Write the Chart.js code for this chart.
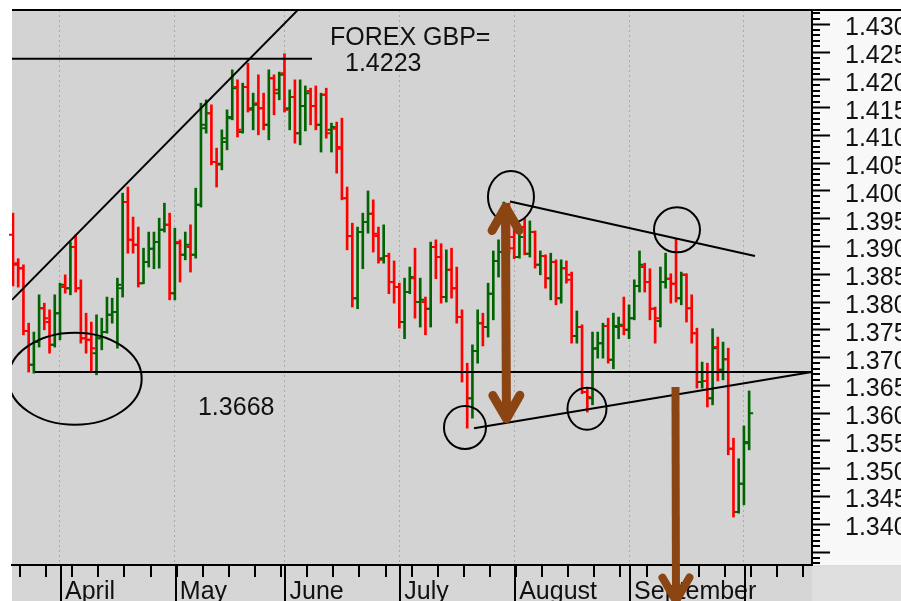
<!DOCTYPE html>
<html>
<head>
<meta charset="utf-8">
<title>FOREX GBP=</title>
<script src="https://cdn.jsdelivr.net/npm/chart.js@4.4.1/dist/chart.umd.min.js"></script>
<style>
    body { margin: 0; background: #ffffff; }
    #caixa { width: 901px; height: 601px; }
</style>
</head>
<body>
<div id="caixa"><canvas id="chartGbp" width="901" height="601"></canvas></div>
<script>

// Barras diarias GBP=, indice 0 = primeira barra a esquerda (dias uteis)
const opens = [
    1.3921, 1.3870, 1.3861, 1.3748, 1.3687, 1.3728, 1.3789, 1.3764, 1.3723, 1.3780,
    1.3827, 1.3825, 1.3899, 1.3825, 1.3735, 1.3732, 1.3708, 1.3735, 1.3746, 1.3777,
    1.3782, 1.3825, 1.3980, 1.3912, 1.3903, 1.3834, 1.3872, 1.3896, 1.3908, 1.3930,
    1.3939, 1.3816, 1.3908, 1.3885, 1.3899, 1.3885, 1.3975, 1.4113, 1.4140, 1.4052,
    1.4049, 1.4088, 1.4131, 1.4187, 1.4106, 1.4187, 1.4149, 1.4158, 1.4149, 1.4119,
    1.4203, 1.4176, 1.4212, 1.4149, 1.4169, 1.4104, 1.4153, 1.4180, 1.4153, 1.4119,
    1.4173, 1.4110, 1.4112, 1.4076, 1.3987, 1.3919, 1.3807, 1.3926, 1.3944, 1.3959,
    1.3919, 1.3879, 1.3883, 1.3836, 1.3827, 1.3764, 1.3818, 1.3843, 1.3800, 1.3800,
    1.3788, 1.3899, 1.3881, 1.3809, 1.3858, 1.3825, 1.3773, 1.3674, 1.3627, 1.3712,
    1.3762, 1.3755, 1.3815, 1.3874, 1.3890, 1.3939, 1.3917, 1.3881, 1.3935, 1.3887,
    1.3926, 1.3867, 1.3883, 1.3843, 1.3872, 1.3807, 1.3861, 1.3849, 1.3739, 1.3755,
    1.3638, 1.3627, 1.3717, 1.3726, 1.3757, 1.3696, 1.3755, 1.3757, 1.3750, 1.3771,
    1.3829, 1.3863, 1.3836, 1.3788, 1.3766, 1.3836, 1.3842, 1.3833, 1.3807, 1.3849,
    1.3789, 1.3744, 1.3656, 1.3658, 1.3627, 1.3719, 1.3678, 1.3697, 1.3536, 1.3422,
    1.3473, 1.3546
];
const highs = [
    1.3960, 1.3878, 1.3867, 1.3762, 1.3746, 1.3813, 1.3798, 1.3786, 1.3813, 1.3834,
    1.3849, 1.3908, 1.3921, 1.3840, 1.3780, 1.3764, 1.3777, 1.3771, 1.3809, 1.3807,
    1.3843, 1.3996, 1.4007, 1.3953, 1.3935, 1.3897, 1.3926, 1.3926, 1.3951, 1.3978,
    1.3960, 1.3933, 1.3912, 1.3926, 1.3939, 1.4005, 1.4158, 1.4164, 1.4155, 1.4077,
    1.4110, 1.4146, 1.4218, 1.4200, 1.4194, 1.4230, 1.4176, 1.4209, 1.4176, 1.4218,
    1.4209, 1.4214, 1.4247, 1.4182, 1.4200, 1.4200, 1.4189, 1.4185, 1.4189, 1.4176,
    1.4185, 1.4122, 1.4124, 1.4131, 1.4007, 1.3942, 1.3935, 1.3960, 1.4000, 1.3984,
    1.3935, 1.3939, 1.3888, 1.3874, 1.3834, 1.3843, 1.3863, 1.3897, 1.3843, 1.3809,
    1.3908, 1.3912, 1.3905, 1.3894, 1.3897, 1.3863, 1.3786, 1.3690, 1.3723, 1.3786,
    1.3780, 1.3834, 1.3892, 1.3912, 1.3980, 1.3978, 1.3948, 1.3935, 1.3951, 1.3946,
    1.3928, 1.3892, 1.3885, 1.3888, 1.3876, 1.3876, 1.3874, 1.3854, 1.3784, 1.3759,
    1.3645, 1.3746, 1.3746, 1.3762, 1.3771, 1.3780, 1.3773, 1.3809, 1.3795, 1.3840,
    1.3892, 1.3870, 1.3860, 1.3791, 1.3863, 1.3888, 1.3851, 1.3914, 1.3854, 1.3851,
    1.3813, 1.3753, 1.3692, 1.3690, 1.3752, 1.3737, 1.3728, 1.3717, 1.3555, 1.3518,
    1.3577, 1.3640
];
const lows = [
    1.3829, 1.3827, 1.3741, 1.3674, 1.3672, 1.3719, 1.3750, 1.3708, 1.3719, 1.3732,
    1.3816, 1.3813, 1.3818, 1.3726, 1.3708, 1.3674, 1.3669, 1.3714, 1.3744, 1.3762,
    1.3717, 1.3809, 1.3888, 1.3888, 1.3827, 1.3833, 1.3863, 1.3860, 1.3861, 1.3926,
    1.3804, 1.3804, 1.3836, 1.3876, 1.3854, 1.3879, 1.3971, 1.4104, 1.4047, 1.4007,
    1.4038, 1.4074, 1.4128, 1.4097, 1.4104, 1.4142, 1.4110, 1.4101, 1.4110, 1.4092,
    1.4137, 1.4164, 1.4142, 1.4110, 1.4086, 1.4083, 1.4108, 1.4119, 1.4110, 1.4070,
    1.4095, 1.4070, 1.4032, 1.3984, 1.3894, 1.3791, 1.3788, 1.3860, 1.3924, 1.3890,
    1.3870, 1.3870, 1.3815, 1.3798, 1.3753, 1.3734, 1.3815, 1.3771, 1.3755, 1.3741,
    1.3755, 1.3842, 1.3798, 1.3800, 1.3807, 1.3762, 1.3656, 1.3573, 1.3591, 1.3690,
    1.3721, 1.3737, 1.3768, 1.3845, 1.3879, 1.3888, 1.3878, 1.3879, 1.3885, 1.3881,
    1.3861, 1.3849, 1.3825, 1.3804, 1.3795, 1.3798, 1.3834, 1.3726, 1.3726, 1.3635,
    1.3602, 1.3615, 1.3699, 1.3699, 1.3690, 1.3680, 1.3734, 1.3741, 1.3734, 1.3768,
    1.3818, 1.3818, 1.3768, 1.3726, 1.3755, 1.3825, 1.3798, 1.3800, 1.3795, 1.3764,
    1.3726, 1.3645, 1.3645, 1.3611, 1.3615, 1.3658, 1.3660, 1.3525, 1.3413, 1.3420,
    1.3435, 1.3534
];
const closes = [
    1.3867, 1.3861, 1.3748, 1.3687, 1.3728, 1.3789, 1.3771, 1.3723, 1.3780, 1.3831,
    1.3825, 1.3899, 1.3825, 1.3735, 1.3732, 1.3717, 1.3735, 1.3746, 1.3777, 1.3782,
    1.3831, 1.3980, 1.3912, 1.3903, 1.3834, 1.3872, 1.3896, 1.3908, 1.3930, 1.3939,
    1.3816, 1.3906, 1.3885, 1.3903, 1.3885, 1.3975, 1.4119, 1.4140, 1.4052, 1.4047,
    1.4095, 1.4133, 1.4185, 1.4110, 1.4187, 1.4146, 1.4155, 1.4149, 1.4119, 1.4203,
    1.4182, 1.4209, 1.4146, 1.4169, 1.4104, 1.4153, 1.4176, 1.4153, 1.4119, 1.4173,
    1.4104, 1.4115, 1.4079, 1.3987, 1.3919, 1.3807, 1.3926, 1.3944, 1.3959, 1.3923,
    1.3876, 1.3883, 1.3836, 1.3827, 1.3764, 1.3818, 1.3845, 1.3800, 1.3804, 1.3788,
    1.3899, 1.3881, 1.3809, 1.3858, 1.3825, 1.3773, 1.3674, 1.3627, 1.3712, 1.3762,
    1.3755, 1.3815, 1.3874, 1.3890, 1.3946, 1.3897, 1.3881, 1.3917, 1.3887, 1.3926,
    1.3867, 1.3883, 1.3843, 1.3872, 1.3807, 1.3861, 1.3840, 1.3739, 1.3755, 1.3638,
    1.3629, 1.3716, 1.3726, 1.3757, 1.3696, 1.3757, 1.3759, 1.3750, 1.3771, 1.3829,
    1.3867, 1.3836, 1.3788, 1.3771, 1.3836, 1.3842, 1.3833, 1.3807, 1.3849, 1.3789,
    1.3744, 1.3656, 1.3658, 1.3627, 1.3717, 1.3678, 1.3697, 1.3536, 1.3422, 1.3473,
    1.3548, 1.3600
];

// eixo do tempo: inicio de cada mes e segundas-feiras (indices das barras)
const monthStarts = [9, 31, 52, 74, 96, 118, 140];
const monthLabels = ['April', 'May', 'June', 'July', 'August', 'September', ''];
const weekStarts = [1, 6, 11, 16, 21, 26, 31, 36, 41, 46, 51, 56, 61, 66, 71, 76,
    81, 86, 91, 96, 101, 106, 111, 116, 121, 126, 131, 136, 141, 146, 151];

// eixo de precos
const yTicks = [1.335, 1.340, 1.345, 1.350, 1.355, 1.360, 1.365, 1.370, 1.375, 1.380,
    1.385, 1.390, 1.395, 1.400, 1.405, 1.410, 1.415, 1.420, 1.425, 1.430];
const yTickLabels = ['', '1.340', '1.345', '1.350', '1.355', '1.360', '1.365', '1.370', '1.375', '1.380',
    '1.385', '1.390', '1.395', '1.400', '1.405', '1.410', '1.415', '1.420', '1.425', '1.430'];

// linhas desenhadas a mao sobre o grafico: [x1, y1, x2, y2] em coordenadas dos dados
const trendLines = [
    [-0.19, 1.3804, 54.59, 1.4326],
    [-0.19, 1.4238, 57.27, 1.4238],
    [4.21, 1.3674, 153.04, 1.3674],
    [95.19, 1.3981, 142.12, 1.3883],
    [88.30, 1.3573, 153.02, 1.3674]
];
// circulos: [x, y, raioX px, raioY px]
const circles = [
    [11.87, 1.3662, 66.7, 46],
    [95.38, 1.3989, 23, 26],
    [127.18, 1.3930, 23, 22.5],
    [86.57, 1.3574, 21, 21.5],
    [109.94, 1.3608, 19.5, 21]
];
// setas: [x1, y1, x2, y2, duas pontas, espessura]
const arrows = [
    [94.33, 1.3971, 94.52, 1.3590, true, 9],
    [126.89, 1.3647, 126.99, 1.3262, false, 8]
];
const notes = [
    ['FOREX GBP=', 60.71, 1.4263],
    ['1.4223', 63.59, 1.4216],
    ['1.3668', 35.43, 1.3597]
];

const vermelho = '#ff0000';
const verde = '#006400';
const marrom = '#8b4513';

const coresBarras = opens.map((o, i) => closes[i] >= o ? verde : vermelho);

const fundo = {
    id: 'fundo',
    beforeDraw(chart) {
        const { ctx, chartArea: a, width, height } = chart;
        ctx.save();
        ctx.fillStyle = '#ffffff';
        ctx.fillRect(0, 0, width, height);
        ctx.fillStyle = '#f8f8f8';
        ctx.fillRect(a.right, a.top, width - a.right, a.bottom - a.top);
        ctx.fillStyle = '#d3d3d3';
        ctx.fillRect(a.left, a.top, a.right - a.left, a.bottom - a.top);
        ctx.fillStyle = '#d6d6d6';
        ctx.fillRect(a.left, a.bottom, a.right - a.left, height - a.bottom);
        ctx.fillStyle = '#dedede';
        ctx.fillRect(a.right, a.bottom, width - a.right, height - a.bottom);
        ctx.restore();
    }
};

// tracinhos de abertura (esquerda) e fechamento (direita)
const tiques = {
    id: 'tiques',
    afterDatasetsDraw(chart) {
        const { ctx, scales: { x, y } } = chart;
        ctx.save();
        ctx.lineWidth = 2;
        for (let i = 0; i < opens.length; i++) {
            const px = x.getPixelForValue(i);
            const yo = y.getPixelForValue(opens[i]);
            const yc = y.getPixelForValue(closes[i]);
            ctx.strokeStyle = coresBarras[i];
            ctx.beginPath();
            ctx.moveTo(px - 4, yo);
            ctx.lineTo(px, yo);
            ctx.moveTo(px, yc);
            ctx.lineTo(px + 4, yc);
            ctx.stroke();
        }
        ctx.restore();
    }
};

function ponta(ctx, x, y, ang) {
    const L = 27, a = Math.PI / 6;
    ctx.beginPath();
    ctx.moveTo(x - L * Math.cos(ang - a), y - L * Math.sin(ang - a));
    ctx.lineTo(x, y);
    ctx.lineTo(x - L * Math.cos(ang + a), y - L * Math.sin(ang + a));
    ctx.stroke();
}

const anotacoes = {
    id: 'anotacoes',
    afterDraw(chart) {
        const { ctx, chartArea: a, width, height, scales: { x, y } } = chart;

        // marcas pequenas do eixo de precos
        ctx.save();
        ctx.strokeStyle = '#000';
        ctx.lineWidth = 2;
        ctx.beginPath();
        for (let k = 1333; k <= 1432; k++) {
            if (k % 5 === 0) continue;
            const py = Math.round(y.getPixelForValue(k / 1000));
            ctx.moveTo(a.right, py);
            ctx.lineTo(a.right + 8, py);
        }
        // semanas e divisoes de mes no eixo do tempo
        weekStarts.forEach(w => {
            const px = Math.round(x.getPixelForValue(w + 0.35));
            ctx.moveTo(px, a.bottom);
            ctx.lineTo(px, a.bottom + 12);
        });
        monthStarts.forEach(m => {
            const px = Math.round(x.getPixelForValue(m)) + 1;
            ctx.moveTo(px, a.bottom);
            ctx.lineTo(px, height);
        });
        ctx.stroke();
        // borda de cima
        ctx.beginPath();
        ctx.moveTo(a.left, a.top);
        ctx.lineTo(width, a.top);
        ctx.stroke();
        ctx.restore();

        // linhas e circulos dentro da area do grafico
        ctx.save();
        ctx.beginPath();
        ctx.rect(a.left, a.top, a.right - a.left, a.bottom - a.top);
        ctx.clip();
        ctx.strokeStyle = '#000';
        ctx.lineWidth = 2;
        trendLines.forEach(l => {
            ctx.beginPath();
            ctx.moveTo(x.getPixelForValue(l[0]), y.getPixelForValue(l[1]));
            ctx.lineTo(x.getPixelForValue(l[2]), y.getPixelForValue(l[3]));
            ctx.stroke();
        });
        circles.forEach(c => {
            ctx.beginPath();
            ctx.ellipse(x.getPixelForValue(c[0]), y.getPixelForValue(c[1]), c[2], c[3], 0, 0, Math.PI * 2);
            ctx.stroke();
        });
        ctx.fillStyle = '#111';
        ctx.font = '25px "Liberation Sans", Arial, sans-serif';
        ctx.textBaseline = 'alphabetic';
        notes.forEach(n => {
            ctx.fillText(n[0], x.getPixelForValue(n[1]), y.getPixelForValue(n[2]));
        });
        ctx.restore();

        // setas marrons
        ctx.save();
        ctx.strokeStyle = marrom;
        ctx.lineJoin = 'round';
        arrows.forEach(s => {
            const x1 = x.getPixelForValue(s[0]), y1 = y.getPixelForValue(s[1]);
            const x2 = x.getPixelForValue(s[2]), y2 = y.getPixelForValue(s[3]);
            const ang = Math.atan2(y2 - y1, x2 - x1);
            ctx.lineWidth = s[5];
            ctx.lineCap = 'butt';
            ctx.beginPath();
            ctx.moveTo(x1, y1);
            ctx.lineTo(x2, y2);
            ctx.stroke();
            ctx.lineCap = 'round';
            ponta(ctx, x2, y2, ang);
            if (s[4]) ponta(ctx, x1, y1, ang + Math.PI);
        });
        ctx.restore();
    }
};

Chart.defaults.font.family = '"Liberation Sans", Arial, sans-serif';

const configGbp = document.getElementById('chartGbp');

new Chart(configGbp, {
    type: 'bar',
    data: {
        datasets: [{
            label: 'GBP=',
            data: opens.map((o, i) => ({ x: i, y: [lows[i], highs[i]] })),
            backgroundColor: coresBarras,
            borderWidth: 0,
            barThickness: 2
        }]
    },
    options: {
        responsive: false,
        animation: false,
        devicePixelRatio: 1,
        layout: {
            padding: { left: 12, top: 10, right: 0, bottom: 0 }
        },
        scales: {
            x: {
                type: 'linear',
                min: -0.19,
                max: 153.04,
                offset: false,
                afterBuildTicks: s => { s.ticks = monthStarts.map(v => ({ value: v })); },
                afterFit: s => {
                    s.height = 36;
                    s.paddingLeft = 0; s.paddingRight = 0;
                    s.paddingTop = 0; s.paddingBottom = 0;
                },
                ticks: {
                    autoSkip: false,
                    maxRotation: 0,
                    minRotation: 0,
                    align: 'start',
                    labelOffset: 5,
                    padding: 12,
                    color: '#111',
                    font: { size: 25 },
                    callback: (v, i) => monthLabels[i]
                },
                grid: {
                    drawOnChartArea: true,
                    drawTicks: false,
                    color: '#a9a9a9',
                    lineWidth: 1,
                    offset: false
                },
                border: { display: true, color: '#000', width: 2, dash: [2, 3] }
            },
            y: {
                position: 'right',
                min: 1.33267,
                max: 1.43257,
                afterBuildTicks: s => { s.ticks = yTicks.map(v => ({ value: v })); },
                afterFit: s => {
                    s.width = 89;
                    s.paddingLeft = 0; s.paddingRight = 0;
                    s.paddingTop = 0; s.paddingBottom = 0;
                },
                ticks: {
                    autoSkip: false,
                    padding: 15,
                    labelOffset: 4,
                    color: '#111',
                    font: { size: 25 },
                    callback: (v, i) => yTickLabels[i]
                },
                grid: {
                    drawOnChartArea: false,
                    drawTicks: true,
                    tickLength: 18,
                    tickWidth: 2,
                    tickColor: '#000'
                },
                border: { display: true, color: '#000', width: 2 }
            }
        },
        plugins: {
            legend: { display: false },
            tooltip: { enabled: false }
        }
    },
    plugins: [fundo, tiques, anotacoes]
});
</script>
</body>
</html>
